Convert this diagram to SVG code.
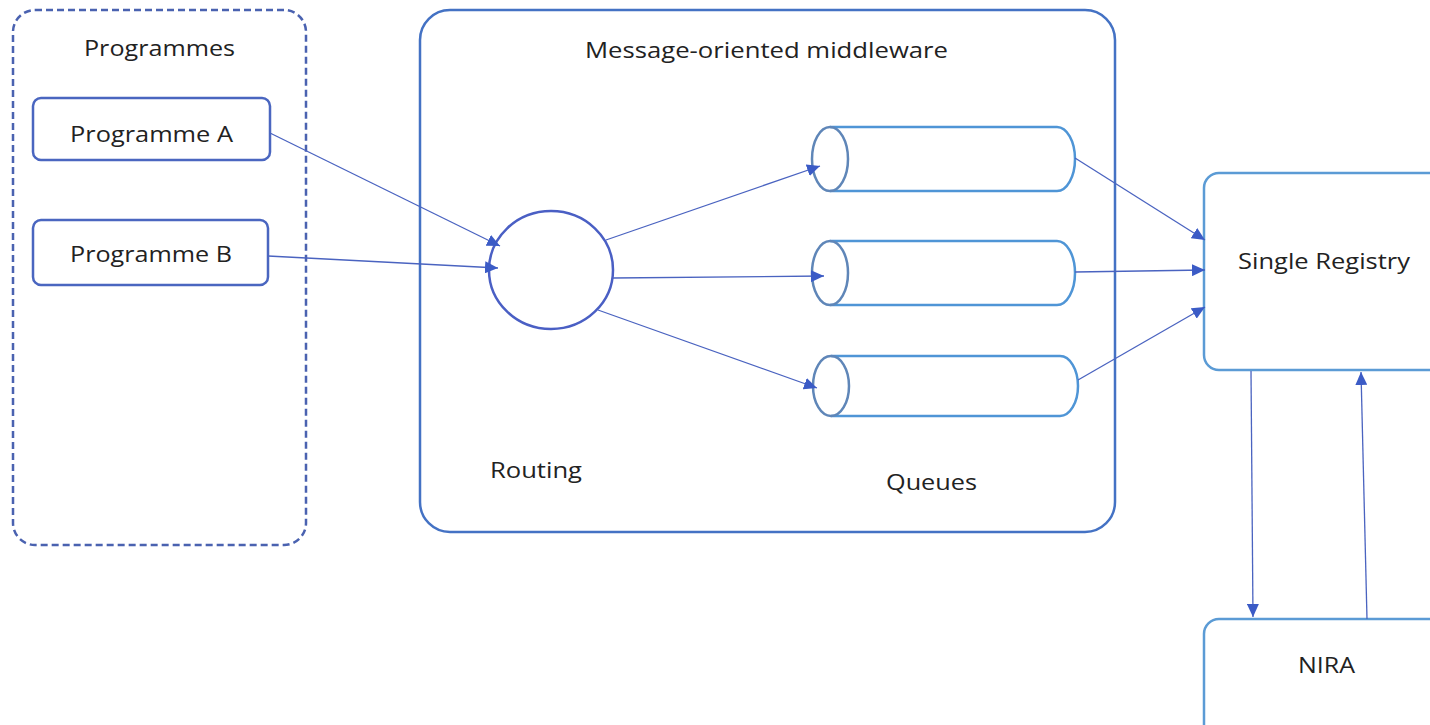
<svg xmlns="http://www.w3.org/2000/svg" width="1430" height="725" viewBox="0 0 1430 725">
<defs>
<style>
.lbl{font-family:"Open Sans","Liberation Sans",sans-serif;font-size:22px;fill:#222}
.prog{fill:#fff;stroke:#4a66c0;stroke-width:2.5}
.grp{fill:none;stroke:#4a62b0;stroke-width:2.5;stroke-dasharray:7 4}
.mom{fill:#fff;stroke:#4472c4;stroke-width:2.5}
.sys{fill:#fff;stroke:#5b9bd5;stroke-width:2.5}
.cyl{fill:#fff;stroke:#4f95d6;stroke-width:2.5}
.cap{fill:none;stroke:#5f86b8;stroke-width:2.5}
.rt{fill:#fff;stroke:#4a5fc4;stroke-width:2.5}
.con{fill:none;stroke:#4a63c0;stroke-width:1.3;marker-end:url(#ah)}
</style>
<marker id="ah" markerUnits="userSpaceOnUse" markerWidth="14" markerHeight="12" refX="13" refY="6" orient="auto">
<path d="M0,0 L13,6 L0,12 Z" fill="#3b5bc6"/>
</marker>
</defs>
<rect width="1430" height="725" fill="#fff"/>

<g id="programmes">
<rect class="grp" x="13" y="10" width="293" height="535" rx="22"/>
<text class="lbl" x="84" y="56" textLength="151" lengthAdjust="spacingAndGlyphs">Programmes</text>
</g>
<g id="programme-a">
<rect class="prog" x="33" y="98" width="237" height="62" rx="8"/>
<text class="lbl" x="70" y="142" textLength="163" lengthAdjust="spacingAndGlyphs">Programme A</text>
</g>
<g id="programme-b">
<rect class="prog" x="33" y="220" width="235" height="65" rx="8"/>
<text class="lbl" x="70" y="262" textLength="162" lengthAdjust="spacingAndGlyphs">Programme B</text>
</g>

<g id="middleware">
<rect class="mom" x="420" y="10" width="695" height="522" rx="30"/>
<text class="lbl" x="585" y="58" textLength="363" lengthAdjust="spacingAndGlyphs">Message-oriented middleware</text>
<text class="lbl" x="490" y="478" textLength="92" lengthAdjust="spacingAndGlyphs">Routing</text>
<text class="lbl" x="886" y="490" textLength="91" lengthAdjust="spacingAndGlyphs">Queues</text>
</g>

<g id="routing">
<ellipse class="rt" cx="551" cy="270" rx="62" ry="59"/>
</g>

<g id="queue-1">
<path class="cyl" d="M830,127 H1057 A18,32 0 0 1 1057,191 H830"/>
<ellipse class="cap" cx="830" cy="159" rx="18" ry="32"/>
</g>
<g id="queue-2">
<path class="cyl" d="M830,241 H1057 A18,32 0 0 1 1057,305 H830"/>
<ellipse class="cap" cx="830" cy="273" rx="18" ry="32"/>
</g>
<g id="queue-3">
<path class="cyl" d="M831,356 H1060 A18,30 0 0 1 1060,416 H831"/>
<ellipse class="cap" cx="831" cy="386" rx="18" ry="30"/>
</g>

<g id="single-registry">
<rect class="sys" x="1204" y="173" width="250" height="197" rx="15"/>
<text class="lbl" x="1238" y="269" textLength="172" lengthAdjust="spacingAndGlyphs">Single Registry</text>
</g>
<g id="nira">
<rect class="sys" x="1204" y="619" width="250" height="130" rx="15"/>
<text class="lbl" x="1298" y="673" textLength="57" lengthAdjust="spacingAndGlyphs">NIRA</text>
</g>

<g id="connectors">
<line class="con" x1="270" y1="133" x2="500" y2="246"/>
<line class="con" x1="268" y1="256" x2="498" y2="268"/>
<line class="con" x1="606" y1="240" x2="820" y2="166"/>
<line class="con" x1="613" y1="278" x2="824" y2="276"/>
<line class="con" x1="598" y1="310" x2="817" y2="388"/>
<line class="con" x1="1075" y1="158" x2="1205" y2="240"/>
<line class="con" x1="1075" y1="272" x2="1205" y2="270"/>
<line class="con" x1="1078" y1="380" x2="1205" y2="307"/>
<line class="con" x1="1251" y1="371" x2="1253" y2="617"/>
<line class="con" x1="1367" y1="619" x2="1361" y2="372"/>
</g>
</svg>
